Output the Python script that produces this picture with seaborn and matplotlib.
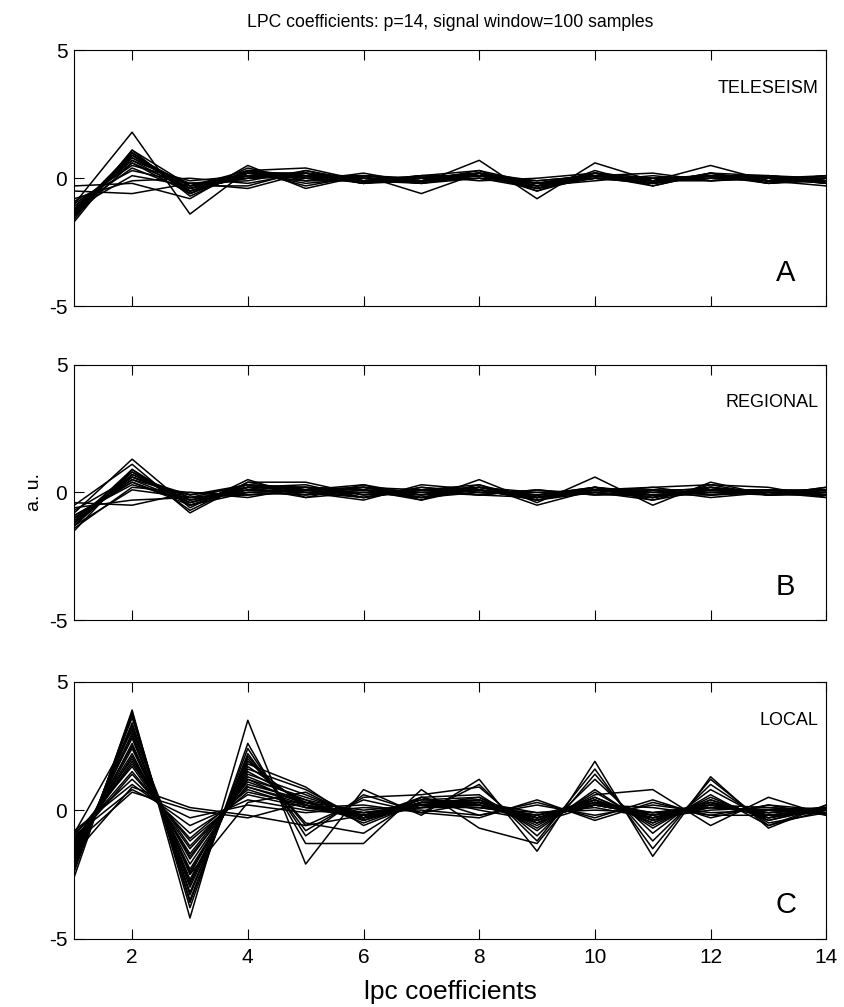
import numpy as np
import pandas as pd
import matplotlib
matplotlib.use("Agg")
import matplotlib.pyplot as plt
import seaborn as sns

# coeficientes lpc (p=14)
coef_idx = list(range(1, 15))

teleseism = [
    [-1.0, 1.8, -1.4, 0.3, 0.4, -0.1, -0.2, 0.7, -0.8, 0.6, -0.1, 0.5, -0.1, -0.3],
    [-0.3, -0.2, -0.8, 0.5, -0.4, 0.1, -0.6, 0.2, -0.5, 0.1, 0.2, -0.1, 0.0, -0.2],
    [-0.5, -0.6, -0.2, -0.4, 0.2, -0.2, 0.1, 0.1, -0.2, 0.0, -0.1, 0.1, -0.2, 0.0],
    [-1.6, 1.1, -0.7, 0.3, 0.1, -0.1, 0.0, 0.2, -0.4, 0.2, -0.2, 0.1, 0.0, -0.1],
    [-1.4, 1.0, -0.5, 0.1, 0.2, -0.2, 0.1, 0.1, -0.3, 0.1, -0.3, 0.2, -0.1, 0.0],
    [-1.3, 0.9, -0.4, 0.0, 0.1, -0.1, -0.1, 0.3, -0.2, 0.0, -0.1, 0.1, 0.1, -0.2],
    [-1.2, 0.8, -0.3, 0.2, -0.2, 0.0, -0.2, 0.0, -0.4, 0.2, 0.0, 0.0, -0.1, 0.1],
    [-1.1, 0.7, -0.2, -0.1, 0.3, -0.2, 0.0, 0.2, -0.1, 0.1, -0.2, 0.1, 0.0, -0.1],
    [-1.5, 0.6, -0.6, 0.2, 0.0, 0.1, -0.1, 0.1, -0.3, -0.1, 0.1, -0.1, 0.1, -0.2],
    [-1.0, 0.5, -0.1, 0.1, -0.1, 0.2, -0.2, 0.2, -0.2, 0.1, -0.2, 0.2, -0.2, 0.0],
    [-0.9, 0.3, -0.2, 0.0, 0.1, -0.2, 0.1, -0.1, 0.0, 0.2, -0.1, 0.0, 0.1, -0.1],
    [-1.2, 0.1, -0.3, 0.3, -0.3, 0.1, 0.0, 0.1, -0.2, 0.0, 0.0, 0.1, -0.1, 0.1],
    [-0.8, -0.1, 0.0, -0.2, 0.2, 0.0, -0.1, 0.0, -0.1, 0.1, -0.1, -0.1, 0.0, -0.1],
    [-1.3, 1.0, -0.6, 0.4, -0.1, -0.1, 0.1, 0.3, -0.5, 0.3, -0.3, 0.2, -0.2, -0.1],
    [-1.4, 0.9, -0.5, 0.2, 0.2, -0.2, -0.1, 0.2, -0.3, 0.2, 0.0, 0.1, 0.0, -0.2],
    [-1.1, 0.6, -0.4, 0.1, 0.0, 0.0, -0.2, 0.1, -0.2, 0.1, -0.1, 0.0, 0.1, 0.0],
    [-1.7, 1.1, -0.3, -0.3, 0.3, -0.1, 0.0, 0.2, -0.4, 0.0, -0.2, 0.1, -0.1, -0.1],
    [-1.2, 0.4, -0.5, 0.1, 0.1, 0.1, -0.1, 0.0, -0.3, 0.1, -0.1, 0.1, 0.0, 0.1],
    [-1.3, 0.8, -0.4, 0.2, 0.2, -0.1, 0.1, 0.1, -0.2, 0.2, -0.2, 0.2, 0.1, -0.1],
    [-1.2, 0.7, -0.5, 0.1, -0.1, 0.1, -0.1, 0.2, -0.3, 0.1, -0.1, 0.0, -0.1, 0.0],
    [-1.4, 0.9, -0.3, 0.0, 0.1, 0.0, 0.0, 0.1, -0.2, 0.0, -0.2, 0.1, 0.0, -0.1],
    [-1.5, 1.0, -0.6, 0.3, 0.0, -0.1, -0.1, 0.2, -0.4, 0.1, -0.1, 0.1, -0.1, 0.0],
]

regional = [
    [-0.8, 1.3, -0.6, 0.5, -0.2, 0.3, -0.3, 0.5, -0.4, 0.6, -0.5, 0.4, -0.1, 0.0],
    [-0.5, 1.1, -0.8, 0.4, 0.4, -0.1, 0.1, 0.3, -0.5, 0.1, 0.2, 0.3, 0.2, -0.2],
    [-1.5, 0.9, -0.5, 0.2, 0.1, 0.2, -0.2, 0.2, -0.2, 0.2, -0.3, 0.1, 0.0, 0.1],
    [-1.3, 0.8, -0.4, 0.3, -0.1, 0.1, -0.1, 0.1, -0.3, 0.0, -0.2, 0.2, -0.1, 0.0],
    [-1.2, 0.7, -0.3, 0.1, 0.2, -0.2, 0.2, 0.0, -0.1, 0.2, -0.1, 0.0, 0.1, -0.1],
    [-1.0, 0.6, -0.2, 0.0, 0.1, 0.3, -0.1, 0.2, -0.2, 0.1, 0.0, 0.2, -0.1, 0.2],
    [-1.1, 0.5, -0.1, 0.2, -0.2, 0.0, 0.1, -0.1, 0.1, -0.1, 0.1, -0.1, 0.0, -0.1],
    [-0.9, 0.3, -0.3, 0.1, 0.0, -0.3, 0.3, 0.1, -0.2, 0.0, -0.2, 0.1, 0.1, 0.0],
    [-1.4, 0.2, 0.0, -0.2, 0.2, 0.1, -0.2, 0.0, 0.0, 0.1, 0.1, -0.2, 0.0, 0.1],
    [-0.6, -0.3, -0.2, 0.0, -0.1, 0.2, 0.0, -0.1, 0.1, -0.1, -0.1, 0.0, -0.1, 0.0],
    [-0.4, -0.5, 0.0, -0.1, 0.1, -0.2, 0.1, 0.0, -0.1, 0.0, 0.2, -0.1, 0.0, -0.1],
    [-1.2, 0.9, -0.7, 0.4, 0.0, 0.0, -0.2, 0.3, -0.3, 0.2, -0.2, 0.2, -0.1, 0.1],
    [-1.0, 0.4, -0.4, 0.2, 0.2, -0.1, 0.0, 0.1, -0.1, 0.1, -0.1, 0.1, 0.1, -0.1],
    [-0.7, 0.6, -0.1, 0.3, 0.1, 0.1, -0.3, 0.2, 0.0, 0.0, -0.3, 0.3, -0.1, 0.2],
    [-1.3, 0.1, -0.2, -0.1, 0.0, 0.2, 0.1, -0.1, -0.2, 0.1, 0.0, 0.0, 0.0, -0.2],
    [-1.1, 0.8, -0.5, 0.2, 0.3, -0.2, 0.2, 0.0, -0.1, 0.2, -0.1, -0.1, 0.1, 0.0],
    [-1.2, 0.6, -0.3, 0.2, 0.1, 0.2, -0.2, 0.1, -0.2, 0.1, -0.2, 0.2, 0.0, 0.1],
    [-1.0, 0.5, -0.4, 0.1, 0.0, -0.2, 0.1, 0.2, -0.1, 0.0, 0.1, 0.1, -0.1, -0.1],
    [-1.3, 0.7, -0.2, 0.3, 0.2, 0.1, 0.0, 0.1, -0.3, 0.1, -0.1, 0.1, 0.1, 0.1],
    [-0.9, 0.4, -0.5, 0.0, 0.1, 0.0, -0.1, 0.2, -0.2, 0.2, 0.0, 0.0, 0.0, -0.1],
]

local = [
    [-2.6, 3.9, -4.2, 3.5, -2.1, 0.8, -0.2, 1.2, -1.6, 1.9, -1.8, 1.3, -0.7, 0.2],
    [-2.4, 3.8, -3.8, 2.6, -1.3, -1.3, 0.8, -0.7, -1.3, 1.4, -1.2, 1.0, -0.5, -0.1],
    [-2.2, 3.6, -3.5, 2.2, -0.8, 0.5, 0.6, 0.9, -1.0, 1.2, -0.9, 0.8, -0.4, 0.1],
    [-2.0, 3.3, -3.2, 2.0, -0.5, -0.9, 0.5, 0.6, -0.8, 0.8, -0.7, 0.6, -0.6, 0.0],
    [-1.8, 3.0, -3.0, 1.8, 0.9, -0.6, 0.3, 0.4, -0.6, 0.6, 0.8, -0.6, 0.5, -0.2],
    [-1.6, 2.8, -2.7, 1.6, 0.8, -0.4, 0.2, 0.5, -0.5, 0.4, -0.5, 0.4, -0.3, 0.1],
    [-1.5, 2.5, -2.4, 1.4, 0.6, -0.3, 0.4, 0.3, -0.4, 0.5, -0.4, 0.3, -0.2, -0.1],
    [-1.4, 2.2, -2.1, 1.2, 0.5, -0.2, 0.1, 0.4, -0.3, 0.3, -0.3, 0.2, 0.1, 0.0],
    [-1.2, 2.0, -1.8, 1.0, 0.4, -0.5, 0.3, 0.2, -0.5, 0.2, -0.2, 0.3, -0.3, 0.1],
    [-1.0, 1.7, -1.5, 0.9, 0.3, 0.0, 0.2, 0.1, -0.2, 0.4, -0.4, 0.1, 0.0, -0.1],
    [-1.1, 1.5, -1.2, 0.7, 0.2, -0.3, 0.5, 0.0, -0.4, 0.3, -0.1, 0.2, -0.2, 0.0],
    [-0.9, 1.2, -0.9, 0.6, 0.1, 0.2, -0.1, 0.3, -0.1, 0.1, -0.3, 0.0, 0.1, -0.1],
    [-0.8, 1.0, -0.6, 0.4, 0.0, -0.2, 0.3, 0.2, -0.3, 0.2, 0.1, -0.2, 0.2, 0.0],
    [-1.0, 0.8, -0.3, 0.2, -0.1, 0.1, 0.0, -0.2, 0.2, -0.2, 0.2, -0.1, 0.0, 0.1],
    [-1.3, 0.7, 0.0, -0.3, 0.3, -0.2, 0.1, 0.1, -0.1, 0.0, -0.1, 0.1, -0.1, 0.0],
    [-1.7, 0.9, 0.1, -0.2, -0.6, 0.4, -0.1, -0.3, 0.4, -0.4, 0.3, -0.2, -0.2, 0.1],
    [-2.1, 3.4, -3.3, 2.1, -0.6, -0.2, 0.4, 0.5, -0.7, 0.7, -0.6, 0.5, -0.4, 0.1],
    [-1.9, 2.9, -2.8, 1.7, 0.2, -0.4, 0.3, 0.3, -0.5, 0.5, -0.5, 0.4, -0.3, 0.0],
    [-1.6, 2.4, -2.3, 1.3, 0.4, -0.1, 0.2, 0.2, -0.4, 0.3, -0.3, 0.3, -0.2, -0.1],
    [-1.3, 1.9, -1.7, 1.1, 0.3, -0.3, 0.1, 0.3, -0.3, 0.3, -0.2, 0.2, -0.1, 0.1],
    [-1.2, 1.4, -1.1, 0.8, 0.1, -0.1, 0.2, 0.1, -0.2, 0.2, -0.1, 0.1, 0.0, 0.0],
    [-0.9, 3.1, -2.5, 0.3, 0.7, -0.4, 0.5, -0.2, 0.3, -0.3, 0.4, -0.3, 0.2, -0.2],
    [-2.3, 3.7, -3.6, 2.4, -1.0, 0.6, -0.1, 1.0, -1.2, 1.6, -1.5, 1.2, -0.6, 0.2],
    [-2.0, 3.2, -2.9, 1.9, 0.1, -0.3, 0.3, 0.4, -0.4, 0.4, -0.4, 0.3, -0.2, 0.0],
    [-1.7, 2.6, -2.5, 1.5, 0.3, -0.2, 0.2, 0.3, -0.3, 0.3, -0.3, 0.2, -0.1, 0.1],
    [-1.5, 2.1, -1.9, 1.2, 0.2, -0.3, 0.2, 0.2, -0.3, 0.2, -0.2, 0.2, -0.2, 0.0],
    [-1.2, 1.8, -1.4, 0.9, 0.2, -0.1, 0.1, 0.2, -0.2, 0.2, -0.2, 0.1, 0.0, -0.1],
]

panel_names = ["TELESEISM", "REGIONAL", "LOCAL"]
panel_letters = ["A", "B", "C"]
panel_data = [teleseism, regional, local]


def to_long(curves):
    rows = []
    for k, curve in enumerate(curves):
        for x, v in zip(coef_idx, curve):
            rows.append({"curve": k, "coef": x, "value": v})
    return pd.DataFrame(rows)


sns.set_style("ticks")
plt.rcParams["font.family"] = ["Liberation Sans", "DejaVu Sans"]
plt.rcParams["axes.unicode_minus"] = False
plt.rcParams["text.color"] = "black"
plt.rcParams["axes.labelcolor"] = "black"
plt.rcParams["xtick.color"] = "black"
plt.rcParams["ytick.color"] = "black"
plt.rcParams["axes.edgecolor"] = "black"

fig = plt.figure(figsize=(8.44, 10.07), dpi=100)
# posiciones de los ejes [left, bottom, width, height]
axes_pos = [
    [0.088, 0.696, 0.891, 0.254],
    [0.088, 0.384, 0.891, 0.254],
    [0.088, 0.068, 0.891, 0.255],
]

for i, (pos, curves) in enumerate(zip(axes_pos, panel_data)):
    ax = fig.add_axes(pos)
    df = to_long(curves)
    sns.lineplot(data=df, x="coef", y="value", units="curve", estimator=None,
                 color="black", linewidth=1.1, ax=ax, legend=False)
    ax.set_xlim(1, 14)
    ax.set_ylim(-5, 5)
    ax.set_xticks([2, 4, 6, 8, 10, 12, 14])
    ax.set_yticks([-5, 0, 5])
    ax.tick_params(direction="in", top=True, right=True, length=7,
                   labelsize=15, width=0.8)
    ax.tick_params(axis="y", pad=5)
    ax.tick_params(axis="x", pad=7)
    for s in ax.spines.values():
        s.set_linewidth(0.8)
    ax.set_xlabel("")
    ax.set_ylabel("")
    if i < 2:
        ax.set_xticklabels([])
    ax.text(13.87, 3.5, panel_names[i], ha="right", va="center", fontsize=13)
    ax.text(13.3, -3.7, panel_letters[i], ha="center", va="center", fontsize=21)
    if i == 0:
        ax.set_title("LPC coefficients: p=14, signal window=100 samples",
                     fontsize=12.7, pad=17)
    if i == 1:
        ax.set_ylabel("a. u.", fontsize=14, labelpad=4)
    if i == 2:
        ax.set_xlabel("lpc coefficients", fontsize=19, labelpad=9)

fig.savefig("out.png", dpi=100)
